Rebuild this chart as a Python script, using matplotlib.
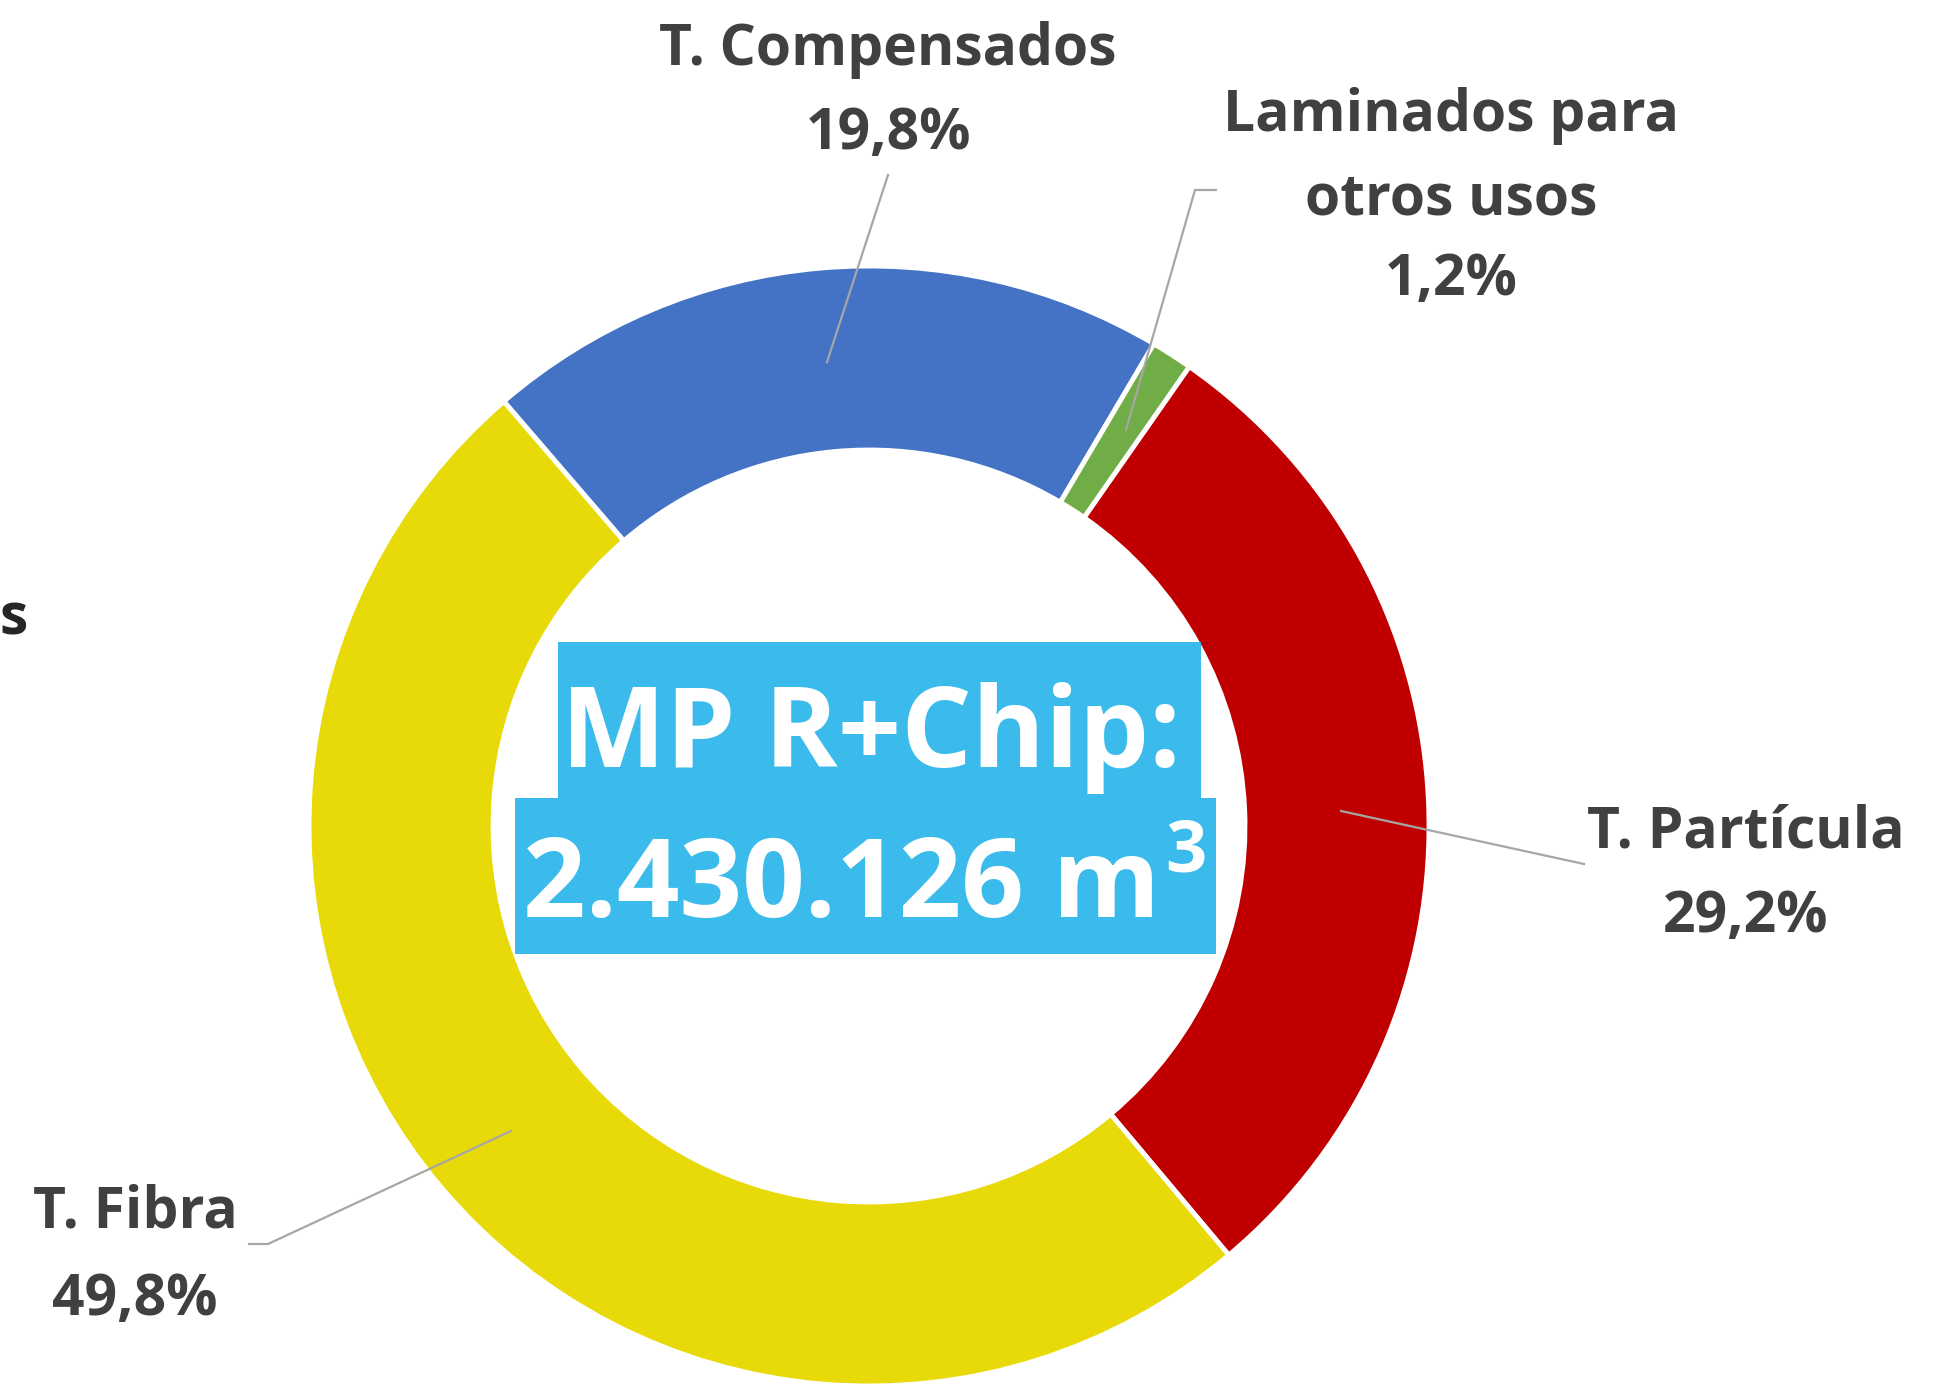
import matplotlib
matplotlib.use("Agg")
import matplotlib.pyplot as plt
from matplotlib.patches import Rectangle

categories = ["T. Compensados", "Laminados para\notros usos", "T. Partícula", "T. Fibra"]
values = [19.8, 1.2, 29.2, 49.8]
pct_labels = ["19,8%", "1,2%", "29,2%", "49,8%"]
colors = ["#4472C4", "#70AD47", "#C00000", "#E8DA08"]
center_line1 = "MP R+Chip:"
center_line2 = "2.430.126 m"
center_sup = "3"

W, H = 1956, 1388
fig = plt.figure(figsize=(W / 100, H / 100), dpi=100)

cx, cy, R, ring = 869, 826, 560, 184

ax2 = fig.add_axes([0, 0, 1, 1])
ax2.set_xlim(0, W)
ax2.set_ylim(0, H)
ax2.set_aspect("equal")
ax2.axis("off")
ax2.pie(values, colors=colors, startangle=130.7, counterclock=False,
        center=(cx, H - cy), radius=R,
        wedgeprops=dict(width=ring, edgecolor="white", linewidth=3.5))
ax2.set_xlim(0, W)
ax2.set_ylim(0, H)

ax = fig.add_axes([0, 0, 1, 1])
ax.set_xlim(0, W)
ax.set_ylim(H, 0)
ax.axis("off")
ax.patch.set_visible(False)

font = "Open Sans"
tcol = "#404040"
fs = 41
lc = "#A6A6A6"

# leader lines
ax.plot([888, 827], [175, 362], color=lc, lw=1.6)
ax.plot([1216, 1195, 1126], [190, 190, 430], color=lc, lw=1.6)
ax.plot([1584, 1341], [864, 811], color=lc, lw=1.6)
ax.plot([249, 268, 511], [1244, 1244, 1131], color=lc, lw=1.6)

def lab(x, ys, lines):
    for y, t in zip(ys, lines):
        ax.text(x, y, t, ha="center", va="baseline", fontsize=fs,
                fontweight="bold", family=font, color=tcol)

lab(888, [65, 149], ["T. Compensados", pct_labels[0]])
lab(1451, [131, 214, 295], categories[1].split("\n") + [pct_labels[1]])
lab(1746, [847, 932], [categories[2], pct_labels[2]])
lab(135, [1228, 1315], [categories[3], pct_labels[3]])

# partially visible label at the left edge
ax.text(0, 634, "s", ha="left", va="baseline", fontsize=fs,
        fontweight="bold", family=font, color="#262626")

# center label with highlight boxes
box = "#3BBBEB"
ax.add_patch(Rectangle((558, 642), 643, 156, facecolor=box, edgecolor="none"))
ax.add_patch(Rectangle((515, 798), 701, 156, facecolor=box, edgecolor="none"))
ax.text(871, 767, center_line1, ha="center", va="baseline", fontsize=80,
        fontweight="bold", family=font, color="white")
ax.text(1160, 917, center_line2, ha="right", va="baseline", fontsize=79,
        fontweight="bold", family=font, color="white")
ax.text(1165, 816, center_sup, ha="left", va="top", fontsize=52,
        fontweight="bold", family=font, color="white")

fig.savefig("out.png", dpi=100, facecolor="white")
